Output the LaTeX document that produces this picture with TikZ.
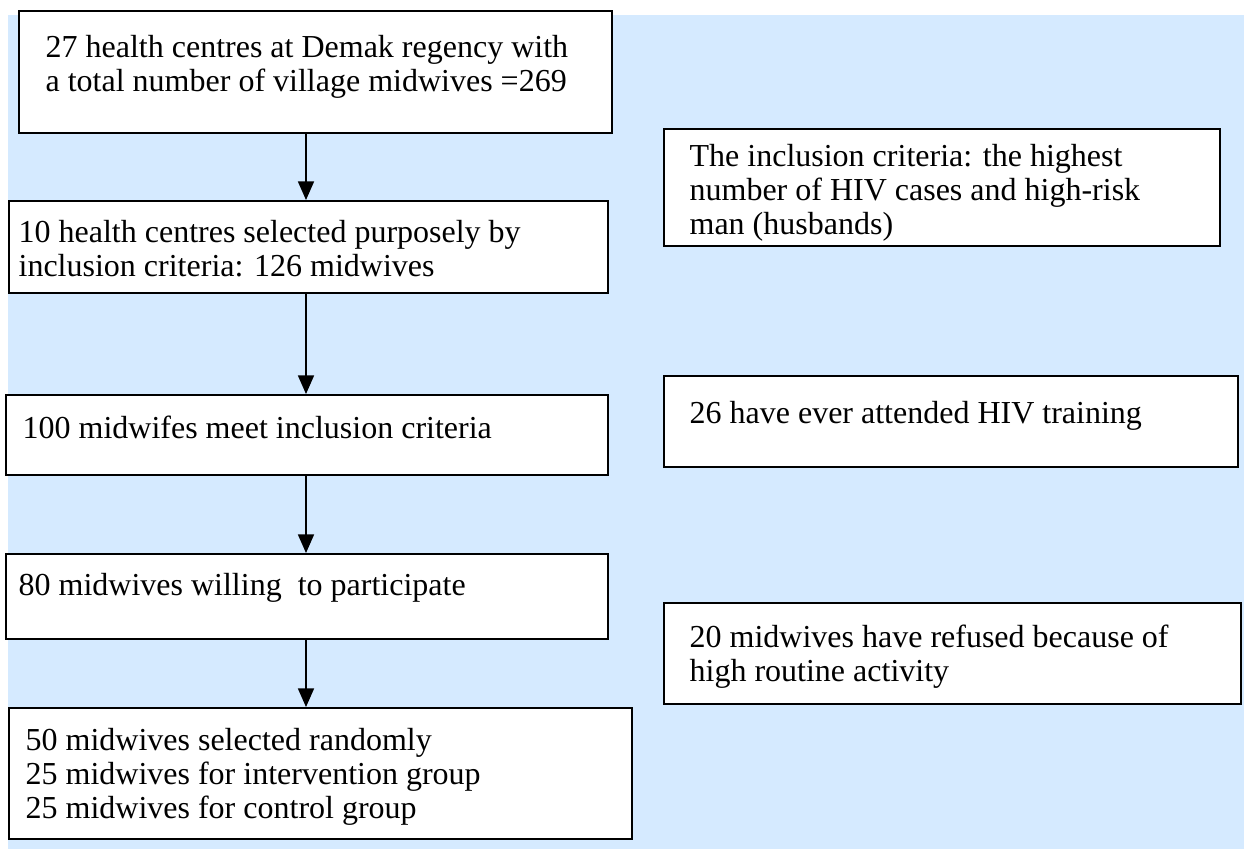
\documentclass[tikz,border=0pt]{standalone}
\usepackage{fontspec}
\setmainfont{Liberation Serif}
\usetikzlibrary{arrows.meta}
\definecolor{panelblue}{RGB}{213,234,255}

\begin{document}
\begin{tikzpicture}[x=0.3125pt, y=-0.3125pt,
  box/.style={draw, fill=white, line width=0.6pt, anchor=north west, inner sep=0pt},
  txt/.style={anchor=north west, align=left, inner sep=0pt,
    font=\fontsize{10}{10.6}\selectfont},
  flow/.style={line width=0.5pt, -{Triangle[length=5.8pt, width=5pt]}}]

% page and blue panel
\useasboundingbox (0,0) rectangle (1244,849);
\fill[panelblue] (8,15) rectangle (1244,849);

% column of the arrows
\coordinate (spine) at (306,0);

% main flow boxes
\node[box, minimum width=185.3pt, minimum height=38.1pt] (centres) at (18,10) {};
\node[txt] (centrestxt) at (45,35)
  {27 health centres at Demak regency with\\a total number of village midwives =269};

\node[box, minimum width=187.2pt, minimum height=28.8pt] (selected) at (8,200) {};
\node[txt] (selectedtxt) at (18,220)
  {10 health centres selected purposely by\\inclusion criteria: 126 midwives};

\node[box, minimum width=188.1pt, minimum height=25pt] (meet) at (5,394) {};
\node[txt] (meettxt) at (22,415) {100 midwifes meet inclusion criteria};

\node[box, minimum width=188.1pt, minimum height=26.6pt] (willing) at (5,553) {};
\node[txt] (willingtxt) at (18,573) {80 midwives willing~ to participate};

\node[box, minimum width=194.7pt, minimum height=40.9pt] (random) at (8,707) {};
\node[txt] (randomtxt) at (25,728)
  {50 midwives selected randomly\\25 midwives for intervention group\\25 midwives for control group};

% side boxes
\node[box, minimum width=173.8pt, minimum height=36.6pt] (criteria) at (663,128) {};
\node[txt] (criteriatxt) at (689,144)
  {The inclusion criteria: the highest\\number of HIV cases and high-risk\\man (husbands)};

\node[box, minimum width=179.4pt, minimum height=28.4pt] (training) at (663,375) {};
\node[txt] (trainingtxt) at (689,401) {26 have ever attended HIV training};

\node[box, minimum width=180.3pt, minimum height=31.6pt] (refused) at (663,602) {};
\node[txt] (refusedtxt) at (689,624)
  {20 midwives have refused because of\\high routine activity};

% arrows down the flow
\draw[flow] (centres.south -| spine) -- (selected.north -| spine);
\draw[flow] (selected.south -| spine) -- (meet.north -| spine);
\draw[flow] (meet.south -| spine) -- (willing.north -| spine);
\draw[flow] (willing.south -| spine) -- (random.north -| spine);
\end{tikzpicture}
\end{document}
